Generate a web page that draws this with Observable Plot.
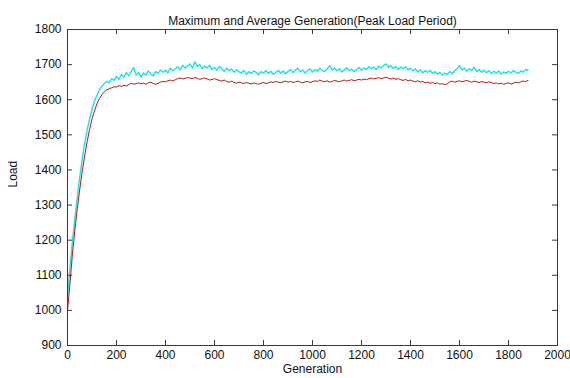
<!DOCTYPE html>
<html><head><meta charset="utf-8">
<script src="https://cdn.jsdelivr.net/npm/d3@7"></script>
<script src="https://cdn.jsdelivr.net/npm/@observablehq/plot@0.6"></script>
<style>
body{margin:0;background:#fff}
svg{font-family:"Liberation Sans",Arial,Helvetica,sans-serif}
</style>
</head><body><div id="chart"></div>
<script>
const titleText = "Maximum and Average Generation(Peak Load Period)";
const xLabel = "Generation";
const yLabel = "Load";
const genStep = 10; // one sample every 10 generations, starting at 0
const avgLoad = [
1000,1075,1160,1228,1290,1345,1395,1440,1480,1515,
1545,1568,1588,1603,1614,1622,1628,1631,1634,1637,
1636,1640,1638,1641,1639,1643,1647,1644,1646,1648,
1645,1647,1644,1648,1650,1646,1644,1647,1650,1652,
1651,1654,1656,1653,1657,1660,1662,1659,1661,1663,
1662,1660,1663,1661,1658,1660,1662,1659,1656,1658,
1660,1657,1655,1653,1656,1652,1650,1653,1649,1647,
1650,1648,1646,1649,1647,1645,1648,1646,1644,1647,
1649,1646,1648,1651,1649,1652,1650,1648,1651,1653,
1650,1652,1649,1651,1653,1650,1648,1651,1652,1649,
1651,1654,1652,1656,1653,1651,1654,1650,1652,1655,
1653,1651,1654,1656,1653,1655,1657,1654,1656,1658,
1656,1659,1657,1660,1662,1659,1661,1663,1660,1662,
1664,1661,1659,1662,1658,1660,1657,1655,1658,1654,
1656,1653,1651,1654,1650,1652,1648,1650,1647,1649,
1646,1648,1644,1646,1643,1645,1651,1653,1650,1652,
1654,1651,1653,1655,1652,1650,1653,1651,1649,1652,
1650,1648,1651,1649,1646,1648,1645,1647,1644,1646,
1648,1645,1647,1650,1648,1651,1653,1652,1655
];
const maxLoad = [
1040,1120,1195,1262,1322,1380,1430,1475,1513,1545,
1572,1596,1612,1628,1638,1646,1652,1648,1660,1655,
1666,1658,1672,1664,1677,1668,1680,1692,1670,1678,
1665,1676,1670,1682,1673,1668,1680,1675,1685,1678,
1684,1676,1690,1682,1688,1694,1685,1698,1690,1696,
1702,1690,1708,1695,1700,1688,1696,1690,1698,1686,
1692,1684,1695,1688,1680,1690,1683,1687,1678,1685,
1680,1676,1684,1672,1680,1675,1682,1678,1671,1680,
1676,1683,1675,1681,1672,1678,1684,1676,1682,1674,
1680,1686,1677,1684,1690,1679,1685,1676,1683,1688,
1679,1686,1681,1690,1683,1680,1688,1697,1684,1690,
1682,1688,1679,1685,1691,1683,1687,1680,1686,1692,
1684,1690,1686,1694,1688,1693,1686,1696,1690,1698,
1702,1692,1697,1689,1695,1686,1693,1688,1694,1685,
1690,1682,1688,1679,1685,1676,1683,1678,1684,1675,
1680,1673,1678,1670,1676,1672,1680,1674,1682,1688,
1697,1684,1690,1681,1688,1683,1692,1680,1686,1678,
1684,1677,1683,1674,1681,1676,1682,1673,1679,1675,
1681,1676,1683,1678,1675,1682,1679,1686,1684
];
const xTicks = [0,200,400,600,800,1000,1200,1400,1600,1800,2000];
const yTicks = [900,1000,1100,1200,1300,1400,1500,1600,1700,1800];

const maxRows = maxLoad.map((v,i)=>({gen:i*genStep, load:v}));
const avgRows = avgLoad.map((v,i)=>({gen:i*genStep, load:v}));
const axisColor = "#3a3a3a";

const W = 570, H = 378, mL = 67, mR = 13, mT = 29, mB = 33;
const frameW = W - mL - mR, frameH = H - mT - mB, tick = 5;

const chart = Plot.plot({
  width:W, height:H,
  marginLeft:mL, marginRight:mR, marginTop:mT, marginBottom:mB,
  style:{fontFamily:'"Liberation Sans",Arial,sans-serif', fontSize:"12px", color:"#111", background:"#fff", overflow:"visible"},
  x:{domain:[0,2000]},
  y:{domain:[900,1800]},
  marks:[
    Plot.line(maxRows,{x:"gen",y:"load",stroke:"#19e3e3",strokeWidth:1.4}),
    Plot.line(avgRows,{x:"gen",y:"load",stroke:"#bb1515",strokeWidth:1}),
    Plot.frame({stroke:axisColor, strokeWidth:1}),
    Plot.tickX(xTicks,{x:d=>d, insetTop:frameH - tick, stroke:axisColor}),
    Plot.tickX(xTicks,{x:d=>d, insetBottom:frameH - tick, stroke:axisColor}),
    Plot.tickY(yTicks,{y:d=>d, insetRight:frameW - tick, stroke:axisColor}),
    Plot.tickY(yTicks,{y:d=>d, insetLeft:frameW - tick, stroke:axisColor}),
    Plot.axisX(xTicks,{anchor:"bottom", tickSize:0, tickPadding:5, tickFormat:"d", label:null, fill:"#111"}),
    Plot.axisY(yTicks,{anchor:"left", tickSize:0, tickPadding:6, tickFormat:"d", label:null, fill:"#111"}),
    Plot.text([titleText],{frameAnchor:"top", dy:-13, text:d=>d, fontSize:12, fill:"#111", ariaLabel:"spaced"}),
    Plot.text([xLabel],{frameAnchor:"bottom", dy:27, text:d=>d, fontSize:12, fill:"#111", ariaLabel:"spaced"}),
    Plot.text([yLabel],{frameAnchor:"left", dx:-54, rotate:-90, text:d=>d, fontSize:12, fill:"#111", ariaLabel:"spaced"})
  ]
});
d3.select(chart).selectAll('g[aria-label="spaced"] text').attr("letter-spacing","1.2px");
document.getElementById("chart").appendChild(chart);
</script>
</body></html>
